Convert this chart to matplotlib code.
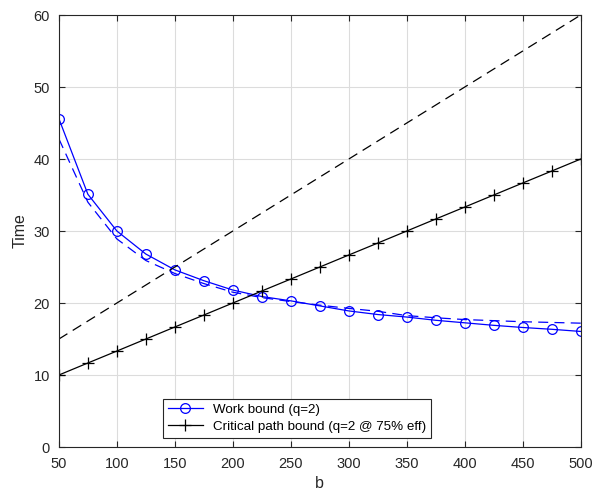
import numpy as np
import matplotlib
matplotlib.use('Agg')
import matplotlib.pyplot as plt

plt.rcParams['font.family'] = ['Liberation Sans', 'DejaVu Sans']

# Valores
b = [50, 75, 100, 125, 150, 175, 200, 225, 250, 275, 300, 325, 350, 375, 400, 425, 450, 475, 500]
work_bound = [45.6, 35.1, 30.0, 26.8, 24.6, 23.1, 21.8, 20.9, 20.3, 19.6, 18.9, 18.4, 18.05, 17.6,
              17.25, 16.9, 16.6, 16.35, 16.05]
work_model = [42.8, 34.0, 28.9, 25.9, 24.1, 22.7, 21.5, 20.75, 20.2, 19.7, 19.25, 18.85, 18.25, 17.95,
              17.7, 17.55, 17.4, 17.3, 17.2]
crit_path = [10.0, 11.67, 13.33, 15.0, 16.67, 18.33, 20.0, 21.67, 23.33, 25.0, 26.67, 28.33, 30.0,
             31.67, 33.33, 35.0, 36.67, 38.33, 40.0]
crit_model_b = [50, 500]
crit_model = [15, 60]

fig = plt.figure(figsize=(5.95, 4.91), dpi=100)
ax = fig.add_axes([0.099, 0.0896, 0.877, 0.8798])

ax.plot(b, work_bound, 'o-', color='#0000ff', lw=0.9, ms=7, mfc='none', mew=0.9,
        label='Work bound (q=2)')
ax.plot(b, work_model, '--', color='#0000ff', lw=0.9, dashes=(8, 5))
ax.plot(b, crit_path, '+-', color='black', lw=0.9, ms=9, mew=0.9,
        label='Critical path bound (q=2 @ 75% eff)')
ax.plot(crit_model_b, crit_model, '--', color='black', lw=0.9, dashes=(8, 5))

ax.set_xlim(50, 500)
ax.set_ylim(0, 60)
ax.set_xticks(np.arange(50, 501, 50))
ax.set_yticks(np.arange(0, 61, 10))
ax.grid(True, color='#dcdcdc', lw=0.8)
ax.set_axisbelow(True)
ax.tick_params(direction='in', top=True, right=True, labelsize=10.5, colors='#262626', length=4)
ax.tick_params(axis='x', pad=7.5)
ax.tick_params(axis='y', pad=6.5)
for s in ax.spines.values():
    s.set_color('#262626')
    s.set_linewidth(0.8)

ax.set_xlabel('b', fontsize=11.5, color='#262626', labelpad=3)
ax.set_ylabel('Time', fontsize=11.5, color='#262626', labelpad=4)

leg = ax.legend(loc='lower center', bbox_to_anchor=(0.457, 0.022), fontsize=9.6,
                frameon=True, fancybox=False, edgecolor='#262626', framealpha=1,
                borderpad=0.35, handlelength=2.6, labelspacing=0.35, borderaxespad=0)
leg.get_frame().set_linewidth(0.8)

fig.savefig('out.png', dpi=100)
